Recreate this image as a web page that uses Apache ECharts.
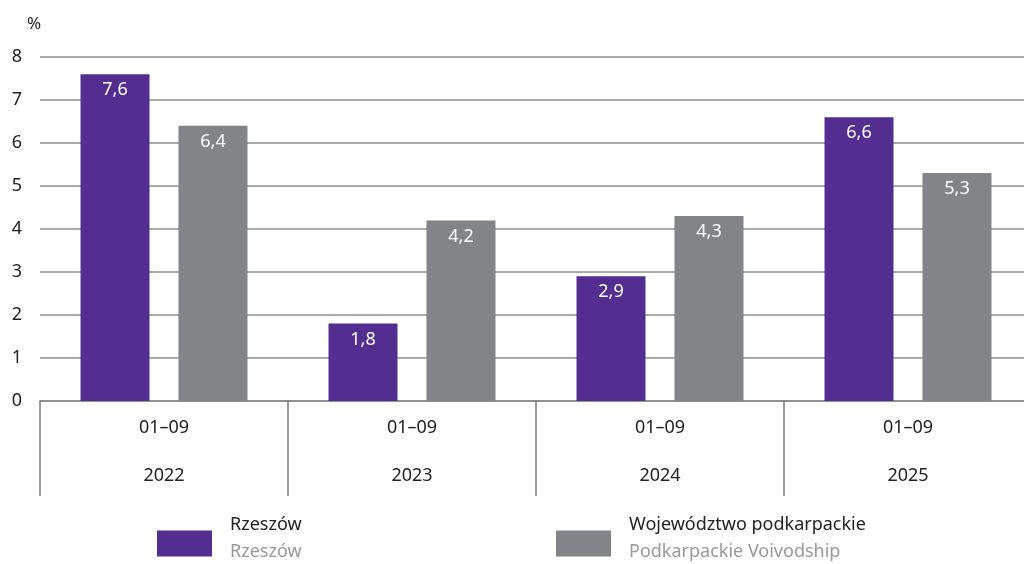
<!DOCTYPE html>
<html>
<head>
<meta charset="utf-8">
<script src="https://cdn.jsdelivr.net/npm/echarts@6/dist/echarts.min.js"></script>
<style>
  html, body { margin: 0; padding: 0; background: #fff; }
  #chart { width: 1024px; height: 564px; }
</style>
</head>
<body>
<div id="chart"></div>
<script>
// dane z wykresu
const years = ["2022", "2023", "2024", "2025"];
const periods = ["01–09", "01–09", "01–09", "01–09"];
const rzeszow = [7.6, 1.8, 2.9, 6.6];
const podkarpackie = [6.4, 4.2, 4.3, 5.3];
const yTicks = [0, 1, 2, 3, 4, 5, 6, 7, 8];

const legendNames = {
  "Rzeszów": "Rzeszów",
  "Województwo podkarpackie": "Podkarpackie Voivodship"
};

const FONT = "Noto Sans";
const PURPLE = "#512e8f";
const GREY = "#838487";

const chart = echarts.init(document.getElementById("chart"));

const barLabel = {
  show: true,
  position: "insideTop",
  distance: 7,
  color: "#fff",
  fontFamily: FONT,
  fontSize: 18,
  formatter: (p) => String(p.value).replace(".", ",")
};

const legendBase = {
  top: 516,
  padding: 0,
  itemWidth: 55,
  itemHeight: 26,
  icon: "rect",
  selectedMode: false,
  formatter: (name) => "{a|" + name + "}\n{b|" + legendNames[name] + "}",
  textStyle: {
    padding: [0, 0, 10, 13],
    rich: {
      a: { fontFamily: FONT, fontSize: 18, color: "#222", lineHeight: 27 },
      b: { fontFamily: FONT, fontSize: 18, color: "#999", lineHeight: 27 }
    }
  }
};

const option = {
  animation: false,
  textStyle: { fontFamily: FONT },
  // siatka wychodzi poza prawą krawędź, jak w oryginale
  grid: { left: 40, width: 992, top: 57, bottom: 163, containLabel: false, outerBoundsMode: "none" },
  legend: [
    Object.assign({}, legendBase, { left: 157, data: ["Rzeszów"] }),
    Object.assign({}, legendBase, { left: 556, data: ["Województwo podkarpackie"] })
  ],
  xAxis: {
    type: "category",
    data: years,
    axisLine: { lineStyle: { color: "#888", width: 1.5 } },
    axisTick: { show: true, length: 95, lineStyle: { color: "#777", width: 1.5 } },
    axisLabel: {
      margin: 3,
      interval: 0,
      formatter: (v, i) => "{p|" + periods[i] + "}\n{y|" + v + "}",
      rich: {
        p: { fontFamily: FONT, fontSize: 18, color: "#222", lineHeight: 48 },
        y: { fontFamily: FONT, fontSize: 18, color: "#222", lineHeight: 48 }
      }
    }
  },
  yAxis: {
    type: "value",
    min: yTicks[0],
    max: yTicks[yTicks.length - 1],
    interval: 1,
    name: "%",
    nameLocation: "end",
    nameGap: 24,
    nameTextStyle: { fontFamily: FONT, fontSize: 17, color: "#222", align: "center", padding: [0, 0, 0, -12] },
    axisLine: { show: false },
    axisTick: { show: false },
    axisLabel: { margin: 18, fontFamily: FONT, fontSize: 18, color: "#222" },
    splitLine: { lineStyle: { color: "#aaa", width: 2 } }
  },
  series: [
    {
      name: "Rzeszów",
      type: "bar",
      data: rzeszow,
      barWidth: 69,
      barGap: "42%",
      itemStyle: { color: PURPLE },
      label: barLabel
    },
    {
      name: "Województwo podkarpackie",
      type: "bar",
      data: podkarpackie,
      barWidth: 69,
      barGap: "42%",
      itemStyle: { color: GREY },
      label: barLabel
    }
  ]
};

chart.setOption(option);
</script>
</body>
</html>
